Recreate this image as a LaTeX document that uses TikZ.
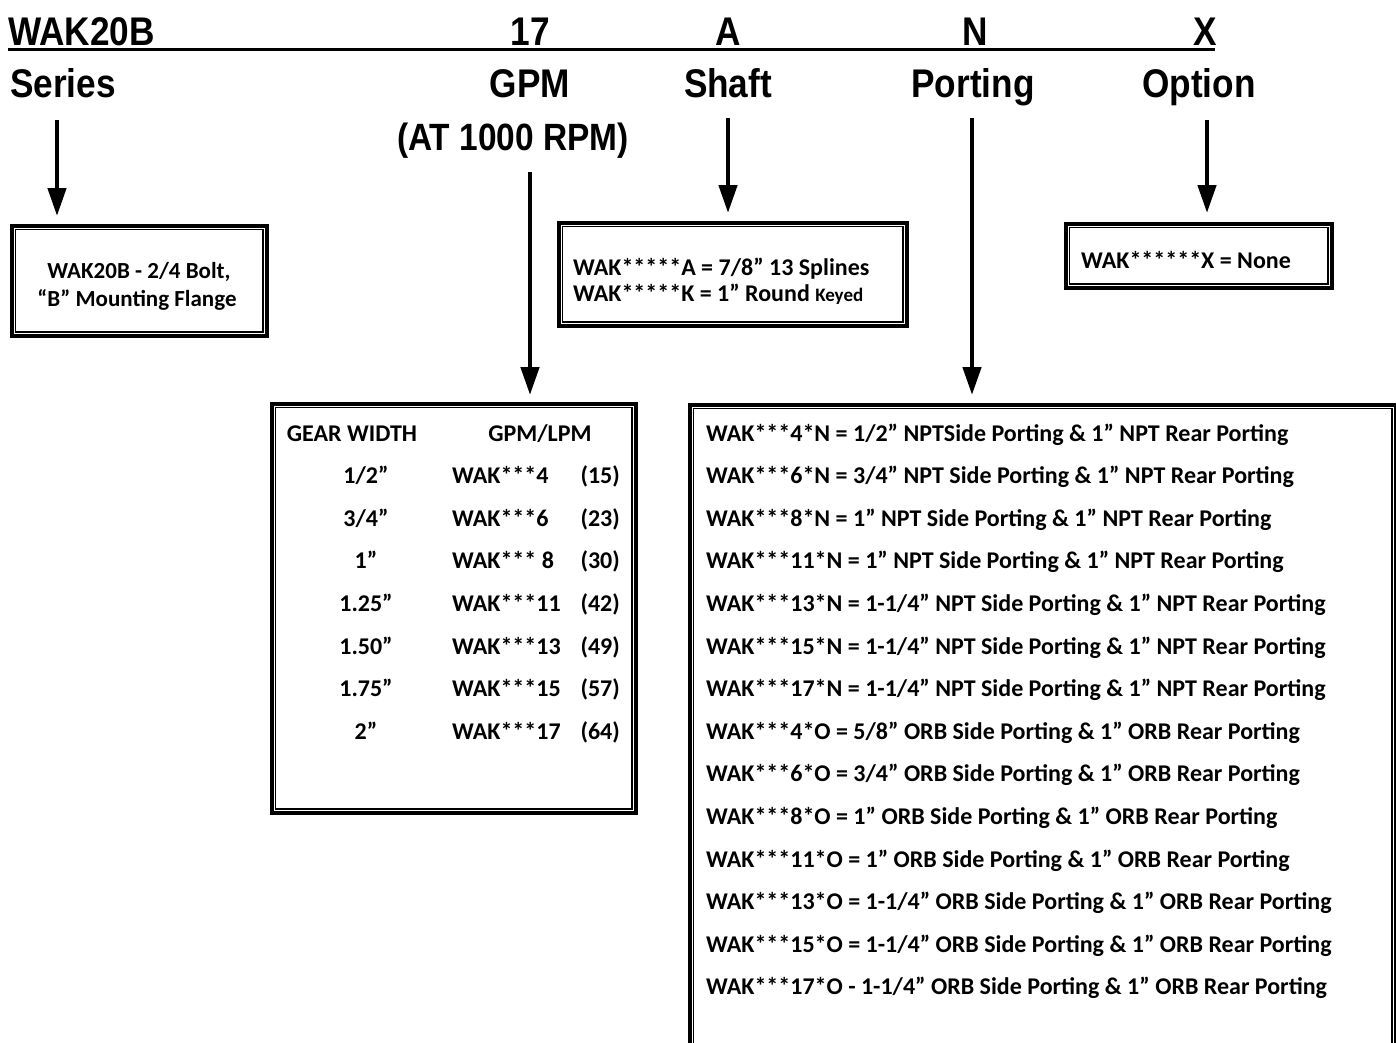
\documentclass[tikz,border=0pt]{standalone}
\usepackage{fontspec}
\usetikzlibrary{arrows.meta}
\newfontfamily\hdrfont[FakeStretch=0.88]{Liberation Sans}
\newfontfamily\bodyfont{Carlito}
\tikzset{
  hdr/.style={font=\hdrfont\bfseries\fontsize{40}{40}\selectfont, inner sep=0pt},
  txt/.style={font=\bodyfont\bfseries\fontsize{24}{24}\selectfont, inner sep=0pt},
  stxt/.style={font=\bodyfont\bfseries\fontsize{23}{23}\selectfont, inner sep=0pt},
  arr/.style={line width=4.5pt, -{Triangle[width=18pt,length=28pt]}},
  dbox/.style={draw, line width=3.6pt, inner sep=0pt, anchor=north west},
  innerline/.style={line width=1.3pt},
}
\newcommand\dbox[5]{%
  \node[dbox, minimum width={(#4)-(#2)}, minimum height={(#5)-(#3)}] (#1) at (#2,#3) {};
  \draw[innerline] ([xshift=5.5pt,yshift=-5.5pt]#1.north west) rectangle ([xshift=-5.5pt,yshift=5.5pt]#1.south east);
}
\begin{document}
\begin{tikzpicture}[x=1pt,y=-1pt]
\useasboundingbox[fill=white] (0,0) rectangle (1396,1042);

% header row 1
\node[hdr, anchor=base west] (hwak) at (8,45) {WAK20B};
\node[hdr, anchor=base] (h17) at (530,45) {17};
\node[hdr, anchor=base] (hA) at (728,45) {A};
\node[hdr, anchor=base] (hN) at (975,45) {N};
\node[hdr, anchor=base] (hX) at (1205,45) {X};
\coordinate (ulL) at (8,49);
\coordinate (ulR) at (1215,49);
\draw[line width=3pt] (ulL) -- (ulR);

% header row 2
\node[hdr, anchor=base west] (series) at (10,97) {Series};
\node[hdr, anchor=base] (gpm) at (530,97) {GPM};
\node[hdr, anchor=base] (shaft) at (728,97) {Shaft};
\node[hdr, anchor=base] (porting) at (973,97) {Porting};
\node[hdr, anchor=base] (option) at (1199,97) {Option};
\node[hdr, anchor=base, font=\hdrfont\bfseries\fontsize{38}{38}\selectfont] (rpm) at (513,150) {(AT 1000 RPM)};

% boxes
\dbox{seriesbox}{10}{224}{265}{334}
\dbox{shaftbox}{557}{221}{905}{324}
\dbox{optionbox}{1064}{222}{1330}{286}
\dbox{gpmbox}{270}{402}{634}{811}
\dbox{portbox}{688}{403}{1394}{1046}

% arrows
\coordinate (a1s) at (57,120);  \coordinate (a1e) at (57,216);
\coordinate (a2s) at (530,172); \coordinate (a2e) at (530,395);
\coordinate (a3s) at (728,118); \coordinate (a3e) at (728,213);
\coordinate (a4s) at (972,118); \coordinate (a4e) at (972,395);
\coordinate (a5s) at (1207,120);\coordinate (a5e) at (1207,213);
\draw[arr] (a1s) -- (a1e);
\draw[arr] (a2s) -- (a2e);
\draw[arr] (a3s) -- (a3e);
\draw[arr] (a4s) -- (a4e);
\draw[arr] (a5s) -- (a5e);

% series box text
\node[stxt, anchor=base] (st1) at (139,278) {WAK20B - 2/4 Bolt,};
\node[stxt, anchor=base] (st2) at (137,306) {“B” Mounting Flange};

% shaft box text
\node[txt, anchor=base west] (sh1) at (573,275) {WAK*****A = 7/8” 13 Splines};
\node[txt, anchor=base west] (sh2) at (573,301) {WAK*****K = 1” Round {\fontsize{19}{19}\selectfont Keyed}};

% option box text
\node[txt, anchor=base west] (op1) at (1081,268) {WAK******X = None};

% gpm table
\node[txt, anchor=base] (gh1) at (352,441) {GEAR WIDTH};
\node[txt, anchor=base] (gh2) at (540,441) {GPM/LPM};
\foreach [count=\k] \w/\m/\v in {{1/2”}/{WAK***4}/{(15)}, {3/4”}/{WAK***6}/{(23)}, {1”}/{WAK*** 8}/{(30)}, {1.25”}/{WAK***11}/{(42)}, {1.50”}/{WAK***13}/{(49)}, {1.75”}/{WAK***15}/{(57)}, {2”}/{WAK***17}/{(64)}}{
  \node[txt, anchor=base] (gw\k) at (366,441+42.6*\k) {\w};
  \node[txt, anchor=base west] (gm\k) at (452,441+42.6*\k) {\m};
  \node[txt, anchor=base east] (gv\k) at (620,441+42.6*\k) {\v};
}

% porting list
\foreach [count=\k from 0] \t in {
 {WAK***4*N = 1/2” NPTSide Porting \& 1” NPT Rear Porting},
 {WAK***6*N = 3/4” NPT Side Porting \& 1” NPT Rear Porting},
 {WAK***8*N = 1” NPT Side Porting \& 1” NPT Rear Porting},
 {WAK***11*N = 1” NPT Side Porting \& 1” NPT Rear Porting},
 {WAK***13*N = 1-1/4” NPT Side Porting \& 1” NPT Rear Porting},
 {WAK***15*N = 1-1/4” NPT Side Porting \& 1” NPT Rear Porting},
 {WAK***17*N = 1-1/4” NPT Side Porting \& 1” NPT Rear Porting},
 {WAK***4*O = 5/8” ORB Side Porting \& 1” ORB Rear Porting},
 {WAK***6*O = 3/4” ORB Side Porting \& 1” ORB Rear Porting},
 {WAK***8*O = 1” ORB Side Porting \& 1” ORB Rear Porting},
 {WAK***11*O = 1” ORB Side Porting \& 1” ORB Rear Porting},
 {WAK***13*O = 1-1/4” ORB Side Porting \& 1” ORB Rear Porting},
 {WAK***15*O = 1-1/4” ORB Side Porting \& 1” ORB Rear Porting},
 {WAK***17*O - 1-1/4” ORB Side Porting \& 1” ORB Rear Porting}}{
  \node[txt, anchor=base west] (pt\k) at (706,441+42.6*\k) {\t};
}
\end{tikzpicture}
\end{document}
